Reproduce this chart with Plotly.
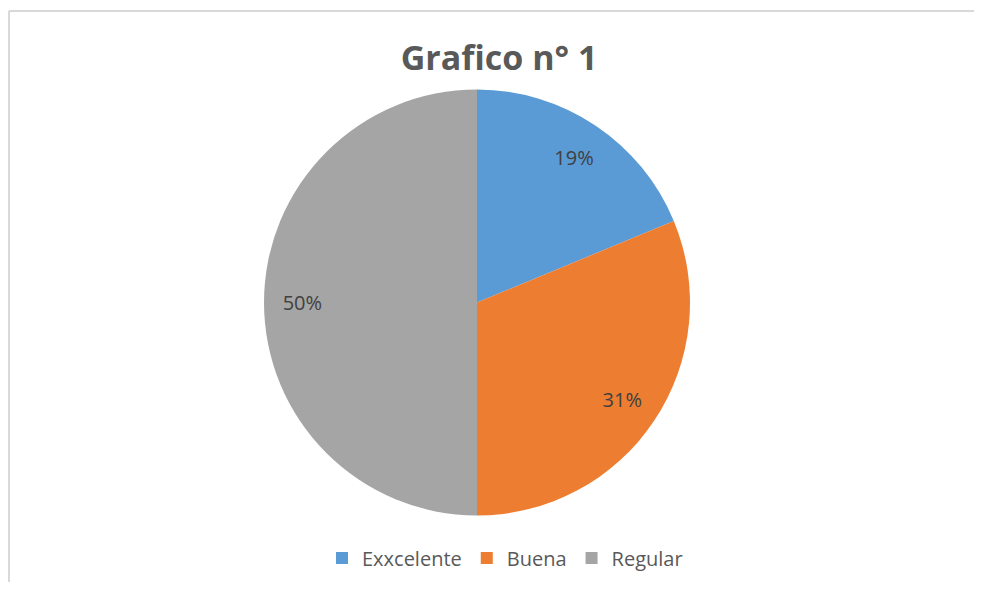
import plotly.graph_objects as go

categories = ["Exxcelente", "Buena", "Regular"]
values = [3, 5, 8]
colors = ["#5B9BD5", "#ED7D31", "#A5A5A5"]
title_text = "Grafico n° 1"

# page body has an 8px default margin; work in reference pixel coords minus offset
OFF = 8
W, H = 982 - 2 * OFF, 590 - 2 * OFF


def px(x):
    return (x - OFF) / W


def py(y):
    return 1 - (y - OFF) / H


cx, cy, r = 477, 302.5, 213
dom = dict(x=[px(cx - r), px(cx + r)], y=[py(cy + r), py(cy - r)])

fig = go.Figure()
# base pie: coloured slices, no text
fig.add_trace(go.Pie(
    labels=categories,
    values=values,
    sort=False,
    direction="clockwise",
    rotation=0,
    marker=dict(colors=colors, line=dict(width=0)),
    textinfo="none",
    domain=dom,
    hoverinfo="label+percent",
))
# transparent donut overlay to place percentage labels near the outer part of slices
fig.add_trace(go.Pie(
    labels=categories,
    values=values,
    sort=False,
    direction="clockwise",
    rotation=0,
    hole=0.64,
    marker=dict(colors=["rgba(0,0,0,0)"] * len(values), line=dict(width=0)),
    texttemplate="%{percent:.0%}",
    textposition="inside",
    insidetextorientation="horizontal",
    textfont=dict(family="Open Sans", size=20, color="#404040"),
    domain=dom,
    showlegend=False,
    hoverinfo="skip",
))

fig.update_layout(
    width=W, height=H,
    margin=dict(l=0, r=0, t=0, b=0),
    paper_bgcolor="white",
    plot_bgcolor="white",
    title=dict(text="<b>" + title_text + "</b>", x=px(499), xanchor="center", y=py(58), yanchor="middle",
               font=dict(family="Open Sans", size=34, color="#595959")),
    legend=dict(orientation="h", x=px(505), xanchor="center", y=py(558), yanchor="middle",
                font=dict(family="Open Sans", size=20, color="#595959"), itemwidth=30,
                traceorder="normal"),
    shapes=[
        dict(type="line", xref="paper", yref="paper", x0=px(9), x1=1, y0=py(11), y1=py(11),
             line=dict(color="#d9d9d9", width=2)),
        dict(type="line", xref="paper", yref="paper", x0=px(9), x1=px(9), y0=0, y1=py(11),
             line=dict(color="#d9d9d9", width=2)),
    ],
)

fig.write_html("out.html")
